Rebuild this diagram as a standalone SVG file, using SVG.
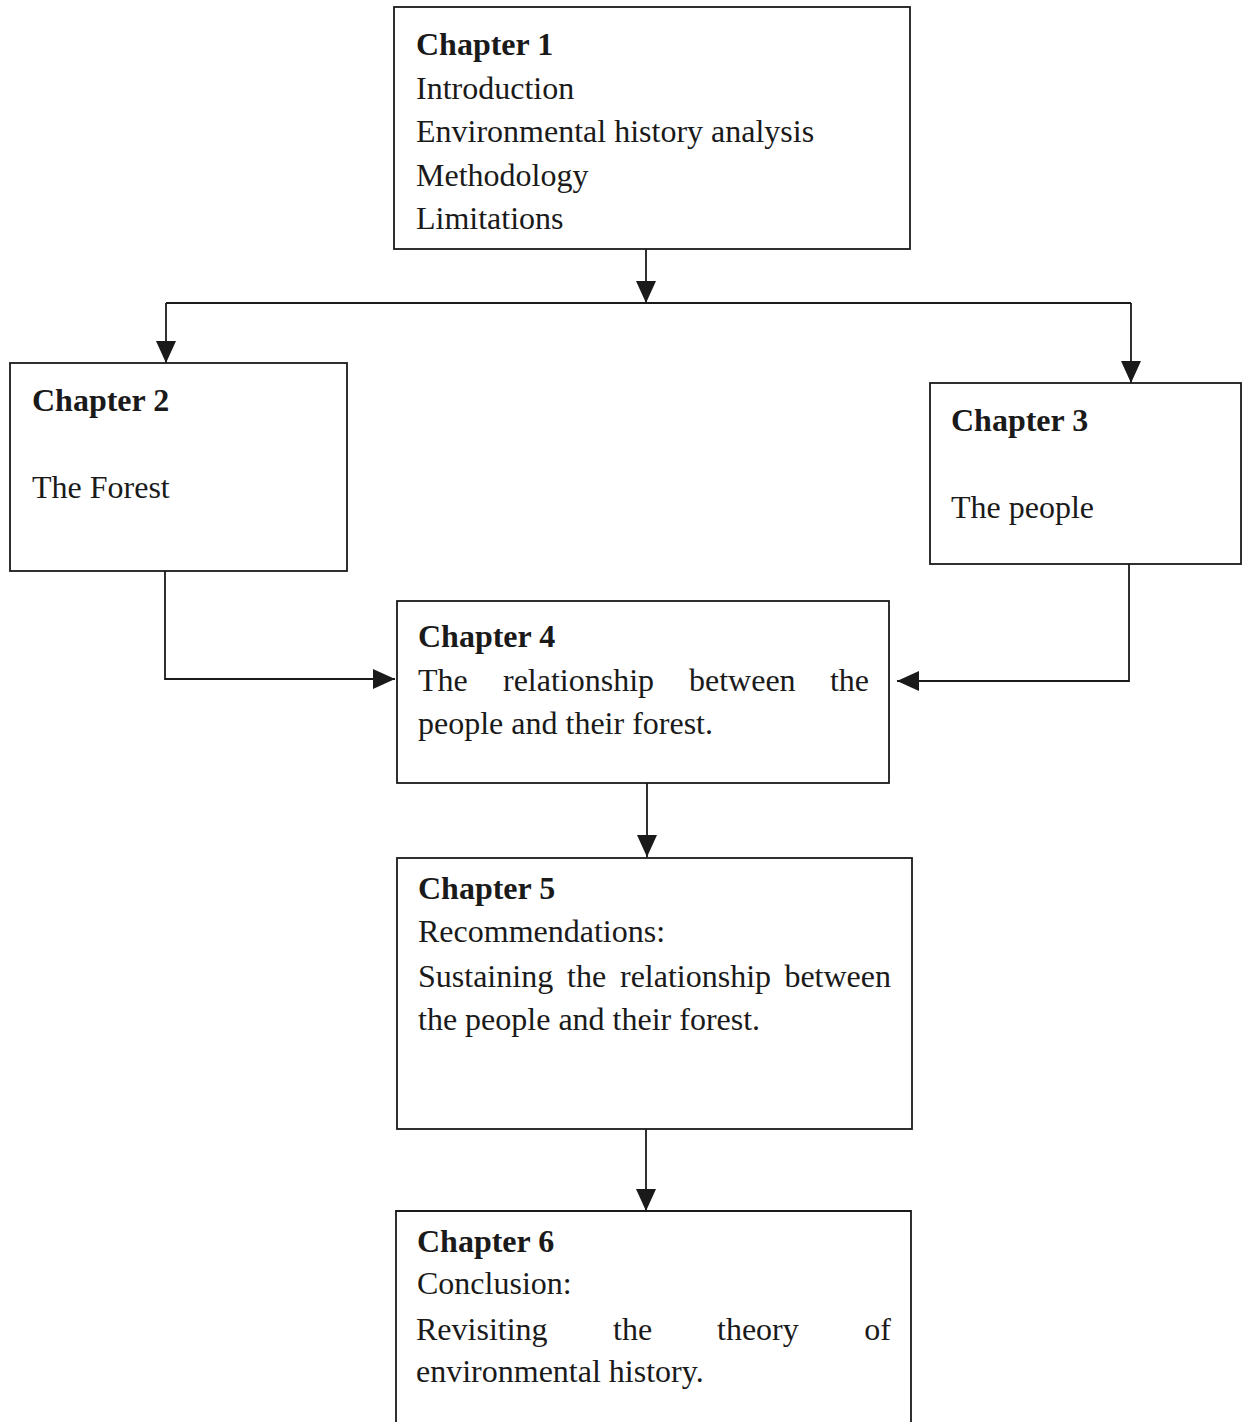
<svg xmlns="http://www.w3.org/2000/svg" width="1243" height="1422" viewBox="0 0 1243 1422">
<style>
.box{fill:#fff;stroke:#1a1a1a;stroke-width:1.8}
.t{font-family:"Liberation Serif","Times New Roman",serif;font-size:32px;fill:#1a1a1a}
.b{font-weight:bold}
.c{fill:none;stroke:#1a1a1a;stroke-width:1.8}
</style>
<defs>
<marker id="ah" viewBox="0 0 22 20" refX="22" refY="10" markerWidth="22" markerHeight="20" markerUnits="userSpaceOnUse" orient="auto">
<path d="M0,0 L22,10 L0,20 Z" fill="#1a1a1a"/>
</marker>
</defs>
<rect width="1243" height="1422" fill="#fff"/>
<g id="connectors">
<path class="c" d="M646,249 V303" marker-end="url(#ah)"/>
<path class="c" d="M166,303 H1131"/>
<path class="c" d="M166,303 V363" marker-end="url(#ah)"/>
<path class="c" d="M1131,303 V383" marker-end="url(#ah)"/>
<path class="c" d="M165,571 V679 H395" marker-end="url(#ah)"/>
<path class="c" d="M1129,564 V681 H897" marker-end="url(#ah)"/>
<path class="c" d="M647,783 V857" marker-end="url(#ah)"/>
<path class="c" d="M646,1129 V1211" marker-end="url(#ah)"/>
</g>
<g id="chapter1">
<rect class="box" x="394" y="7" width="516" height="242"/>
<text class="t b" x="416" y="55">Chapter 1</text>
<text class="t" x="416" y="99">Introduction</text>
<text class="t" x="416" y="142">Environmental history analysis</text>
<text class="t" x="416" y="186">Methodology</text>
<text class="t" x="416" y="229">Limitations</text>
</g>
<g id="chapter2">
<rect class="box" x="10" y="363" width="337" height="208"/>
<text class="t b" x="32" y="411">Chapter 2</text>
<text class="t" x="32" y="498">The Forest</text>
</g>
<g id="chapter3">
<rect class="box" x="930" y="383" width="311" height="181"/>
<text class="t b" x="951" y="431">Chapter 3</text>
<text class="t" x="951" y="518">The people</text>
</g>
<g id="chapter4">
<rect class="box" x="397" y="601" width="492" height="182"/>
<text class="t b" x="418" y="647">Chapter 4</text>
<text class="t" y="691"><tspan x="418">The</tspan><tspan x="503">relationship</tspan><tspan x="689">between</tspan><tspan x="869" text-anchor="end">the</tspan></text>
<text class="t" x="418" y="734">people and their forest.</text>
</g>
<g id="chapter5">
<rect class="box" x="397" y="858" width="515" height="271"/>
<text class="t b" x="418" y="899">Chapter 5</text>
<text class="t" x="418" y="942">Recommendations:</text>
<text class="t" y="987"><tspan x="418">Sustaining</tspan><tspan x="567">the</tspan><tspan x="620">relationship</tspan><tspan x="891" text-anchor="end">between</tspan></text>
<text class="t" x="418" y="1030">the people and their forest.</text>
</g>
<g id="chapter6">
<path class="box" d="M396,1430 V1211 H911 V1430"/>
<text class="t b" x="417" y="1252">Chapter 6</text>
<text class="t" x="417" y="1294">Conclusion:</text>
<text class="t" y="1340"><tspan x="416">Revisiting</tspan><tspan x="613">the</tspan><tspan x="717">theory</tspan><tspan x="891" text-anchor="end">of</tspan></text>
<text class="t" x="416" y="1382">environmental history.</text>
</g>
</svg>
